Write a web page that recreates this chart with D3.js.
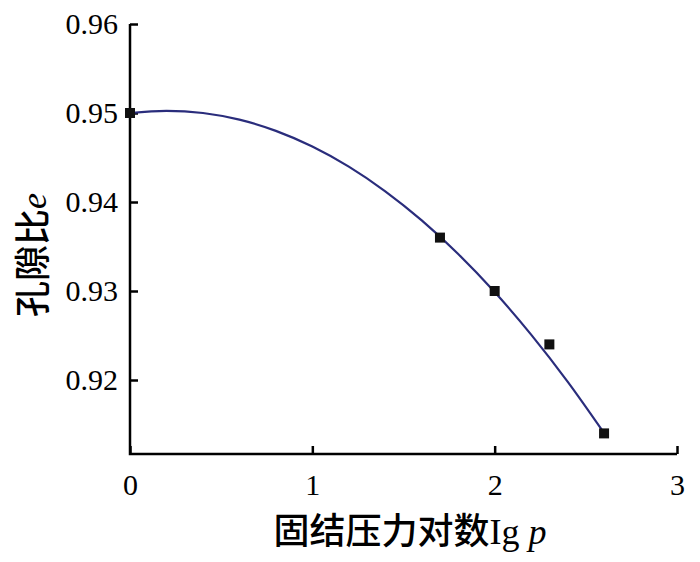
<!DOCTYPE html>
<html><head><meta charset="utf-8">
<script src="https://cdn.jsdelivr.net/npm/d3@7"></script>
<style>body{margin:0;background:#fff}svg{display:block}</style>
</head><body>
<script>
// Data
const pointX = [0, 1.7, 2.0, 2.3, 2.6];
const pointE = [0.950, 0.936, 0.930, 0.924, 0.914];
const curveX = [0, 0.2, 0.4, 0.6, 0.8, 1.0, 1.2, 1.4, 1.6, 1.8, 2.0, 2.2, 2.4, 2.6];
const curveE = [0.9500, 0.95025, 0.9500, 0.94925, 0.94799, 0.94623, 0.94397, 0.94120, 0.93793, 0.93416, 0.92988, 0.92510, 0.91982, 0.91404];
const xTicks = [0, 1, 2, 3];
const yTicks = [0.92, 0.93, 0.94, 0.95, 0.96];
const xTitle = "固结压力对数";
const yTitle = "孔隙比";

const W = 700, H = 562;
const svg = d3.select("body").append("svg").attr("width", W).attr("height", H);
const x = d3.scaleLinear().domain([0, 3]).range([130, 677]);
const y = d3.scaleLinear().domain([0.96, 0.92]).range([24, 380]);
const yBottom = 454;

const serif = "'Liberation Serif','DejaVu Serif',serif";

// axes
const xAxis = svg.append("g").attr("transform", `translate(0,${yBottom})`)
  .call(d3.axisBottom(x).tickValues(xTicks).tickSize(-8).tickPadding(20).tickFormat(d3.format("d")));
const yAxis = svg.append("g").attr("transform", `translate(130,0)`)
  .call(d3.axisLeft(y).tickValues(yTicks).tickSize(-8).tickPadding(12).tickFormat(d3.format(".2f")));
[xAxis, yAxis].forEach(g => {
  g.selectAll("path.domain").remove();
  g.selectAll("line").attr("stroke", "#000").attr("stroke-width", 2.5);
  g.selectAll("text").attr("font-family", serif).attr("font-size", 30).attr("fill", "#000");
});
svg.append("path")
  .attr("d", `M${x(0)},${y(0.96)}V${yBottom}H${x(3)}`)
  .attr("fill", "none").attr("stroke", "#000").attr("stroke-width", 2.5);
xAxis.selectAll("text").attr("dy", "0.71em");

// curve
const curveData = curveX.map((v, i) => [v, curveE[i]]);
svg.append("path")
  .datum(curveData)
  .attr("d", d3.line().x(d => x(d[0])).y(d => y(d[1])).curve(d3.curveMonotoneX))
  .attr("fill", "none").attr("stroke", "#2a2d7c").attr("stroke-width", 2.2);

// points
svg.selectAll("rect.pt").data(pointX.map((v, i) => [v, pointE[i]])).enter()
  .append("rect").attr("class", "pt")
  .attr("x", d => x(d[0]) - 5).attr("y", d => y(d[1]) - 5)
  .attr("width", 10).attr("height", 10).attr("fill", "#111");

// axis titles
const xt = svg.append("text").attr("x", 410).attr("y", 544).attr("text-anchor", "middle")
  .attr("font-size", 36).attr("fill", "#000");
xt.append("tspan").attr("font-family", "'Noto Sans CJK SC'").attr("font-weight", 500).text(xTitle);
xt.append("tspan").attr("font-family", serif).text("Ig ");
xt.append("tspan").attr("font-family", serif).attr("font-style", "italic").text("p");

const yt = svg.append("text").attr("transform", "translate(46,255) rotate(-90)").attr("text-anchor", "middle")
  .attr("font-size", 36).attr("fill", "#000");
yt.append("tspan").attr("font-family", "'Noto Sans CJK SC'").attr("font-weight", 500).text(yTitle);
yt.append("tspan").attr("font-family", serif).attr("font-style", "italic").text("e");
</script>
</body></html>
